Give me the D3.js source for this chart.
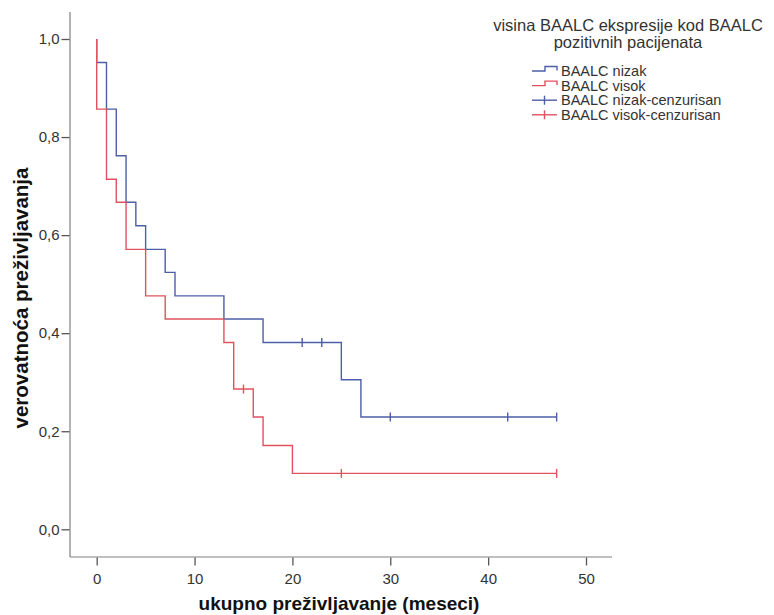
<!DOCTYPE html>
<html>
<head>
<meta charset="utf-8">
<script src="https://cdn.jsdelivr.net/npm/d3@7"></script>
<style>
  body { margin: 0; background: #fff; }
  svg { display: block; }
  text { font-family: "Liberation Sans", Arial, sans-serif; }
</style>
</head>
<body>
<svg id="chart" width="774" height="615"></svg>
<script>
// Kaplan-Meier estimates: event times and survival after each event
const nizakTimes = [0, 1, 2, 3, 4, 5, 7, 8, 13, 17, 25, 27];
const nizakSurvival = [0.952, 0.857, 0.762, 0.667, 0.619, 0.571, 0.524, 0.476, 0.429, 0.381, 0.305, 0.229];
const nizakCensored = [21, 23, 30, 42, 47];

const visokTimes = [0, 1, 2, 3, 5, 7, 13, 14, 16, 17, 20];
const visokSurvival = [0.857, 0.714, 0.667, 0.571, 0.476, 0.429, 0.381, 0.286, 0.229, 0.171, 0.114];
const visokCensored = [15, 25, 47];

const xTicks = [0, 10, 20, 30, 40, 50];
const yTicks = [0, 0.2, 0.4, 0.6, 0.8, 1.0];

const legendTitle = ["visina BAALC ekspresije kod BAALC", "pozitivnih pacijenata"];
const legendLabels = ["BAALC nizak", "BAALC visok", "BAALC nizak-cenzurisan", "BAALC visok-cenzurisan"];
const xTitle = "ukupno preživljavanje (meseci)";
const yTitle = "verovatnoća preživljavanja";

const colNizak = "#4d5fa6";
const colVisok = "#e0535e";
const axisCol = "#808080";
const textCol = "#333";

const svg = d3.select("#chart");

const x = d3.scaleLinear().domain([0, 50]).range([96.7, 586]);
const y = d3.scaleLinear().domain([0, 1]).range([529.3, 39]);

const axisX0 = 70, axisY0 = 557;

// axis lines
svg.append("line").attr("x1", axisX0).attr("x2", axisX0).attr("y1", 12).attr("y2", axisY0)
  .attr("stroke", axisCol).attr("stroke-width", 1.2);
svg.append("line").attr("x1", axisX0).attr("x2", 612).attr("y1", axisY0).attr("y2", axisY0)
  .attr("stroke", axisCol).attr("stroke-width", 1.2);

const commaFmt = d => d3.format(".1f")(d).replace(".", ",");

const yAxis = svg.append("g").attr("transform", `translate(${axisX0 - 0.5},0)`)
  .call(d3.axisLeft(y).tickValues(yTicks).tickSize(8).tickPadding(2).tickFormat(commaFmt));
const xAxis = svg.append("g").attr("transform", `translate(0,${axisY0 + 0.5})`)
  .call(d3.axisBottom(x).tickValues(xTicks).tickSize(8).tickPadding(8).tickFormat(d3.format("d")));

[yAxis, xAxis].forEach(g => {
  g.select(".domain").remove();
  g.selectAll(".tick line").attr("stroke", "#555").attr("stroke-width", 1.3);
  g.selectAll(".tick text").attr("fill", textCol).style("font-size", "15px")
    .style("font-family", '"Liberation Sans", Arial, sans-serif');
});

// survival step curves
function stepPoints(times, surv, end) {
  const pts = [[0, 1]];
  times.forEach((t, i) => pts.push([t, surv[i]]));
  pts.push([end, surv[surv.length - 1]]);
  return pts;
}
function survivalAt(times, surv, t) {
  let s = 1;
  times.forEach((ti, i) => { if (ti <= t) s = surv[i]; });
  return s;
}
const line = d3.line().x(d => x(d[0])).y(d => y(d[1])).curve(d3.curveStepAfter);

const series = [
  { times: nizakTimes, surv: nizakSurvival, cens: nizakCensored, color: colNizak },
  { times: visokTimes, surv: visokSurvival, cens: visokCensored, color: colVisok }
];

series.forEach(s => {
  const end = d3.max(s.cens);
  svg.append("path")
    .attr("d", line(stepPoints(s.times, s.surv, end)))
    .attr("fill", "none").attr("stroke", s.color).attr("stroke-width", 1.4);
  svg.selectAll(null).data(s.cens).enter().append("line")
    .attr("x1", d => x(d)).attr("x2", d => x(d))
    .attr("y1", d => y(survivalAt(s.times, s.surv, d)) - 4.5)
    .attr("y2", d => y(survivalAt(s.times, s.surv, d)) + 4.5)
    .attr("stroke", s.color).attr("stroke-width", 1.4);
});

// axis titles
svg.append("text").attr("x", 339).attr("y", 609.5).attr("text-anchor", "middle")
  .attr("fill", "#111").style("font-size", "19px").style("font-weight", "bold").text(xTitle);
svg.append("text").attr("transform", "translate(28,298) rotate(-90)").attr("text-anchor", "middle")
  .attr("fill", "#111").style("font-size", "20.5px").style("font-weight", "bold").text(yTitle);

// legend
const legend = svg.append("g");
legend.selectAll("text.title").data(legendTitle).enter().append("text")
  .attr("class", "title").attr("x", 628).attr("y", (d, i) => 31 + i * 16.5)
  .attr("text-anchor", "middle").attr("fill", textCol).style("font-size", "16.5px").text(d => d);

const rowY = [71, 85.6, 100.2, 114.8];
const legendColors = [colNizak, colVisok, colNizak, colVisok];
legendLabels.forEach((lab, i) => {
  const cy = rowY[i];
  const g = legend.append("g");
  if (i < 2) {
    g.append("path")
      .attr("d", `M532,${cy}H545V${cy - 4.5}H557V${cy - 0.5}`)
      .attr("fill", "none").attr("stroke", legendColors[i]).attr("stroke-width", 1.4);
  } else {
    g.append("line").attr("x1", 532).attr("x2", 557).attr("y1", cy).attr("y2", cy)
      .attr("stroke", legendColors[i]).attr("stroke-width", 1.4);
    g.append("line").attr("x1", 544.5).attr("x2", 544.5).attr("y1", cy - 4.5).attr("y2", cy + 4.5)
      .attr("stroke", legendColors[i]).attr("stroke-width", 1.4);
  }
  g.append("text").attr("x", 561).attr("y", cy).attr("dy", "0.36em")
    .attr("fill", textCol).style("font-size", "14.5px").text(lab);
});
</script>
</body>
</html>
